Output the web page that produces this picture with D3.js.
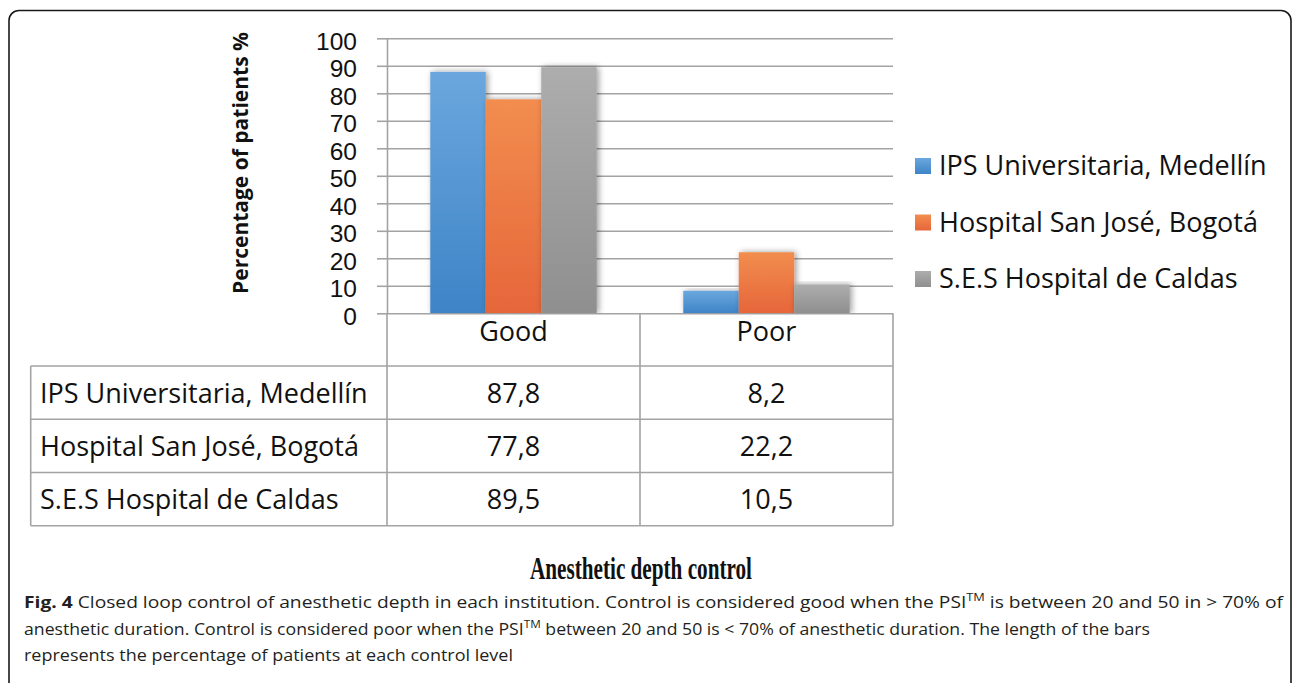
<!DOCTYPE html>
<html><head><meta charset="utf-8">
<script src="https://cdn.jsdelivr.net/npm/d3@7"></script>
<style>html,body{margin:0;padding:0;background:#fff;} svg{display:block;}</style>
</head><body><svg id="chart" width="1293" height="683"></svg>
<script>
// ---------- data ----------
const categories = ["Good", "Poor"];
const seriesNames = ["IPS Universitaria, Medellín", "Hospital San José, Bogotá", "S.E.S Hospital de Caldas"];
const ipsValues = [87.8, 8.2];
const sanJoseValues = [77.8, 22.2];
const caldasValues = [89.5, 10.5];
const yTicks = [0, 10, 20, 30, 40, 50, 60, 70, 80, 90, 100];
const yAxisTitle = "Percentage of patients %";
const xAxisTitle = "Anesthetic depth control";
const captionLines = [
  [{t:"Fig. 4", b:true}, {t:" Closed loop control of anesthetic depth in each institution. Control is considered good when the PSI"}, {t:"TM", sup:true}, {t:" is between 20 and 50 in > 70% of"}],
  [{t:"anesthetic duration. Control is considered poor when the PSI"}, {t:"TM", sup:true}, {t:" between 20 and 50 is < 70% of anesthetic duration. The length of the bars"}],
  [{t:"represents the percentage of patients at each control level"}]
];

const seriesValues = [ipsValues, sanJoseValues, caldasValues];
const series = seriesNames.map((name, i) => ({ name, values: seriesValues[i], idx: i }));

// ---------- layout ----------
const svg = d3.select("#chart");
const plot = { left: 387, right: 893, top: 38.3, bottom: 313.3 };
const tableLeft = 30.7, tableBottom = 525.7, headerBottom = 366;
const gridColor = "#a3a3a3";
const font = "'Open Sans', 'Noto Sans', sans-serif";

const x0 = d3.scaleBand().domain(categories).range([plot.left, plot.right]).paddingInner(0).paddingOuter(0);
const x1 = d3.scaleBand().domain(seriesNames).range([0, x0.bandwidth()]).paddingInner(0).paddingOuter(0.78);
const y = d3.scaleLinear().domain([0, 100]).range([plot.bottom, plot.top]);
const rowY = d3.scaleBand().domain(seriesNames).range([headerBottom, tableBottom]);
const legendY = d3.scalePoint().domain(seriesNames).range([175, 288]);
const fmt = v => d3.format(".1f")(v).replace(".", ",");

// defs
const defs = svg.append("defs");
const gradColors = [["#6ba7de", "#3e84c7"], ["#f28d4f", "#e6663a"], ["#adadad", "#8f8f8f"]];
gradColors.forEach((c, i) => {
  const g = defs.append("linearGradient").attr("id", "grad" + i).attr("x1", 0).attr("y1", 0).attr("x2", 0).attr("y2", 1);
  g.append("stop").attr("offset", "0%").attr("stop-color", c[0]);
  g.append("stop").attr("offset", "100%").attr("stop-color", c[1]);
});
const f = defs.append("filter").attr("id", "shadow").attr("x", "-30%").attr("y", "-10%").attr("width", "160%").attr("height", "120%");
f.append("feGaussianBlur").attr("in", "SourceAlpha").attr("stdDeviation", 3);
f.append("feOffset").attr("dx", 2).attr("dy", 0).attr("result", "ob");
f.append("feComponentTransfer").append("feFuncA").attr("type", "linear").attr("slope", 0.4);
const fm = f.append("feMerge"); fm.append("feMergeNode"); fm.append("feMergeNode").attr("in", "SourceGraphic");
defs.append("clipPath").attr("id", "plotclip").append("rect")
  .attr("x", plot.left - 20).attr("y", 0).attr("width", plot.right - plot.left + 40).attr("height", plot.bottom);

// frame
svg.append("rect").attr("x", 9).attr("y", 10.5).attr("width", 1282).attr("height", 720)
  .attr("rx", 10).attr("fill", "none").attr("stroke", "#1a1a1a").attr("stroke-width", 1.6);

// gridlines
const grid = svg.append("g").attr("transform", `translate(${plot.left},0)`)
  .call(d3.axisLeft(y).tickValues(yTicks).tickSize(-(plot.right - plot.left)).tickFormat(""));
grid.select(".domain").remove();
grid.selectAll("line").attr("stroke", gridColor).attr("stroke-width", 1.6);

// bars
const barsG = svg.append("g").attr("clip-path", "url(#plotclip)");
categories.forEach((c, ci) => {
  barsG.append("g").selectAll("rect").data(series).join("rect")
    .attr("x", d => x0(c) + x1(d.name))
    .attr("y", d => y(d.values[ci]))
    .attr("width", x1.bandwidth())
    .attr("height", d => y(0) - y(d.values[ci]))
    .attr("fill", d => `url(#grad${d.idx})`)
    .attr("filter", "url(#shadow)");
});

// y axis (stubs + labels)
const yAx = svg.append("g").attr("transform", `translate(${plot.left},0)`)
  .call(d3.axisLeft(y).tickValues(yTicks).tickSize(10).tickSizeOuter(0).tickPadding(20));
yAx.select(".domain").attr("stroke", gridColor).attr("stroke-width", 1.6);
yAx.selectAll("line").attr("stroke", gridColor).attr("stroke-width", 1.6);
yAx.selectAll("text").attr("font-family", "'Liberation Sans', Arial, sans-serif").attr("font-size", 24.5)
  .attr("fill", "#111").attr("dy", "0.45em");

// y axis title
svg.append("text").attr("transform", `translate(248,163) rotate(-90)`)
  .attr("text-anchor", "middle").attr("font-family", font).attr("font-weight", 700).attr("font-size", 21)
  .attr("fill", "#111").text(yAxisTitle);

// data table lines
const tl = svg.append("g").attr("stroke", gridColor).attr("stroke-width", 1.6);
[plot.left, x0(categories[1]), plot.right].forEach(xv => {
  tl.append("line").attr("x1", xv).attr("x2", xv).attr("y1", plot.bottom).attr("y2", tableBottom);
});
tl.append("line").attr("x1", tableLeft).attr("x2", tableLeft).attr("y1", headerBottom).attr("y2", tableBottom);
seriesNames.forEach(n => {
  tl.append("line").attr("x1", tableLeft).attr("x2", plot.right).attr("y1", rowY(n)).attr("y2", rowY(n));
});
tl.append("line").attr("x1", tableLeft).attr("x2", plot.right).attr("y1", tableBottom).attr("y2", tableBottom);

// header category labels
svg.append("g").selectAll("text").data(categories).join("text")
  .attr("x", d => x0(d) + x0.bandwidth() / 2).attr("y", plot.bottom + 27.7)
  .attr("text-anchor", "middle").attr("font-family", font).attr("font-size", 27).attr("fill", "#111")
  .text(d => d);

// table rows
const rows = svg.append("g").selectAll("g").data(series).join("g")
  .attr("transform", d => `translate(0,${rowY(d.name) + rowY.bandwidth() / 2 + 10})`);
rows.append("text").attr("x", 40).attr("font-family", font).attr("font-size", 27).attr("fill", "#111").text(d => d.name);
categories.forEach((c, ci) => {
  rows.append("text").attr("x", x0(c) + x0.bandwidth() / 2).attr("text-anchor", "middle")
    .attr("font-family", font).attr("font-size", 27).attr("fill", "#111").text(d => fmt(d.values[ci]));
});

// legend
const lg = svg.append("g").selectAll("g").data(series).join("g")
  .attr("transform", d => `translate(915,${legendY(d.name)})`);
lg.append("rect").attr("x", 0).attr("y", -17).attr("width", 16).attr("height", 16).attr("fill", d => `url(#grad${d.idx})`);
lg.append("text").attr("x", 24).attr("y", 0).attr("font-family", font).attr("font-size", 27).attr("fill", "#111").text(d => d.name);

// x axis title
svg.append("text").attr("x", 641).attr("y", 579).attr("text-anchor", "middle")
  .attr("font-family", "'Liberation Serif', 'Times New Roman', serif").attr("font-weight", 700).attr("font-size", 31)
  .attr("textLength", 222).attr("lengthAdjust", "spacingAndGlyphs").attr("fill", "#111").text(xAxisTitle);

// caption
const capBase = [608, 635, 661];
const capLen = [1259, 1126, 489];
captionLines.forEach((line, li) => {
  const t = svg.append("text").attr("x", 24).attr("y", capBase[li])
    .attr("font-family", font).attr("font-size", 16.5).attr("fill", "#231f20")
    .attr("textLength", capLen[li]).attr("lengthAdjust", "spacingAndGlyphs");
  line.forEach((seg, si) => {
    const ts = t.append("tspan").text(seg.t);
    if (seg.b) ts.attr("font-weight", 700);
    if (seg.sup) ts.attr("font-size", 11).attr("dy", -7);
    else if (si > 0 && line[si - 1].sup) ts.attr("dy", 7);
  });
});
</script></body></html>
